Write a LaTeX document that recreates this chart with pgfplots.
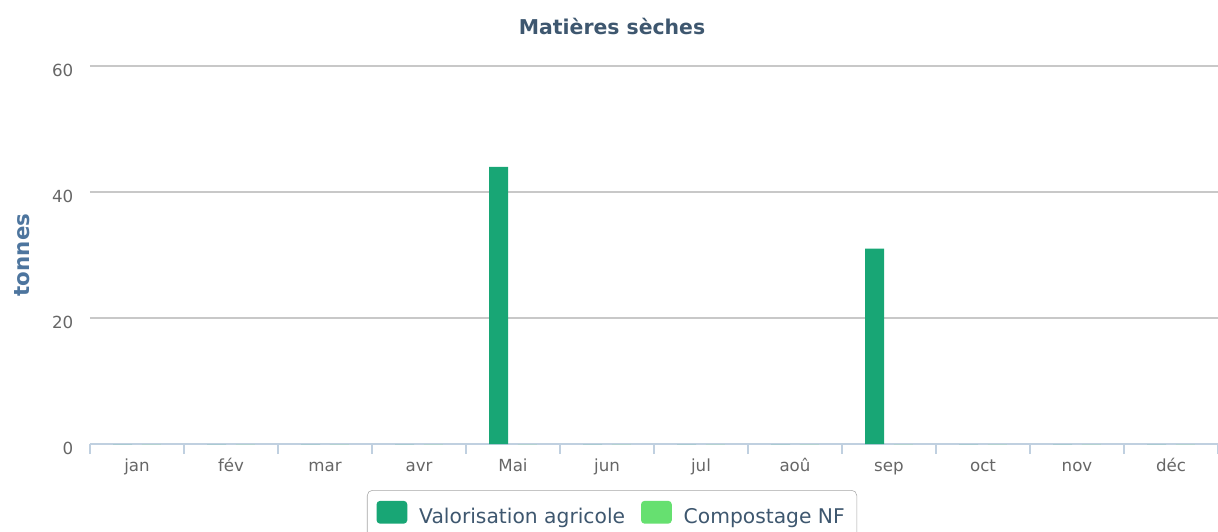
\documentclass[border=0pt]{standalone}
\usepackage{fontspec}
\setmainfont{DejaVu Sans}
\usepackage{pgfplots}
\pgfplotsset{compat=1.18}
\definecolor{valo}{HTML}{18A675}
\definecolor{compo}{HTML}{66E070}
\definecolor{titlec}{HTML}{3E576F}
\definecolor{ylabc}{HTML}{4D759E}
\definecolor{tickc}{HTML}{666666}
\definecolor{gridc}{HTML}{C8C8C8}
\definecolor{axisc}{HTML}{C0D0E0}
\begin{document}
\begin{tikzpicture}
\path[use as bounding box] (-67.5pt,-66pt) rectangle (846pt,333pt);
\clip (-67.5pt,-66pt) rectangle (846pt,333pt);
\begin{axis}[
  at={(0,0)}, anchor=south west,
  scale only axis, width=846pt, height=283.5pt,
  xmin=-0.5, xmax=11.5, ymin=0, ymax=60,
  ytick={0,20,40,60},
  xtick={0,...,11},
  xticklabels={jan,fév,mar,avr,Mai,jun,jul,aoû,sep,oct,nov,déc},
  minor xtick={-0.5,0.5,...,11.5},
  major tick length=0pt,
  minor tick length=7.5pt,
  tick align=outside,
  xtick pos=bottom,
  minor tick style={draw=axisc, line width=1pt},
  axis x line*=bottom, axis y line*=left,
  x axis line style={draw=axisc, line width=1.1pt, -},
  y axis line style={draw=none},
  ymajorgrids, grid style={draw=gridc, line width=1.1pt},
  /pgf/number format/assume math mode=true,
  xticklabel style={font=\fontsize{12.5}{14}\selectfont, text=tickc, anchor=base, yshift=-20.5pt},
  yticklabel style={font=\fontsize{12.5}{14}\selectfont, text=tickc, xshift=-9pt, yshift=-3pt},
  title={Matières sèches},
  title style={at={(axis description cs:0.4628,1.0847)}, anchor=base, yshift=-6.5pt, font=\bfseries\fontsize{15.3}{17}\selectfont, text=titlec},
  ylabel={tonnes},
  ylabel style={at={(axis description cs:-0.0602,0.5)}, rotate=0, anchor=center, font=\bfseries\fontsize{16}{18}\selectfont, text=ylabc},
  ybar=7.15pt, bar width=14.25pt,
  legend columns=2,
  legend style={at={(axis description cs:0.4628,-0.1217)}, anchor=north, draw=gray!70, rounded corners=4pt, font=\fontsize{15.2}{17}\selectfont, text=titlec, inner xsep=7pt, inner ysep=8pt,
    /tikz/every odd column/.append style={column sep=7pt},
    /tikz/every even column/.append style={column sep=10pt}},
  legend image code/.code={\fill[#1, rounded corners=2.5pt] (0pt,-5pt) rectangle (23pt,12pt);},
]
\addplot[fill=valo, draw=none] coordinates {(0,0) (1,0) (2,0) (3,0) (4,44) (5,0) (6,0) (7,0) (8,31) (9,0) (10,0) (11,0)};
\addplot[fill=compo, draw=none] coordinates {(0,0) (1,0) (2,0) (3,0) (4,0) (5,0) (6,0) (7,0) (8,0) (9,0) (10,0) (11,0)};
\legend{Valorisation agricole, Compostage NF}
\end{axis}
\end{tikzpicture}
\end{document}
